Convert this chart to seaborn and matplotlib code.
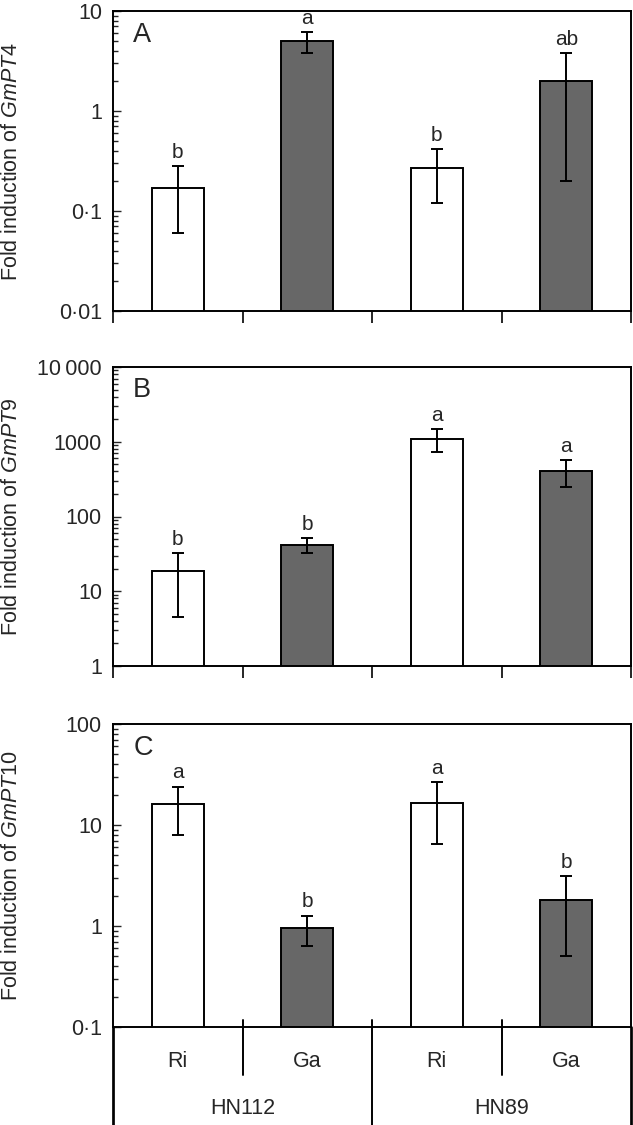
import numpy as np
import pandas as pd
import seaborn as sns
import matplotlib.pyplot as plt
import matplotlib.transforms as mtransforms
from matplotlib.ticker import FixedLocator, LogLocator, NullFormatter

# data (fold induction, mean and error)
cultivars = ['HN112', 'HN112', 'HN89', 'HN89']
fungi = ['Ri', 'Ga', 'Ri', 'Ga']
bar_ids = ['HN112 Ri', 'HN112 Ga', 'HN89 Ri', 'HN89 Ga']

pt4_mean = [0.17, 5.0, 0.27, 2.0]
pt4_err = [0.11, 1.2, 0.15, 1.8]
pt4_letters = ['b', 'a', 'b', 'ab']

pt9_mean = [18.5, 42, 1100, 410]
pt9_err = [14, 10, 370, 160]
pt9_letters = ['b', 'b', 'a', 'a']

pt10_mean = [16, 0.95, 16.5, 1.8]
pt10_err = [8, 0.32, 10, 1.3]
pt10_letters = ['a', 'b', 'a', 'b']

pt4_ticks = [0.01, 0.1, 1, 10]
pt4_ticklabels = ['0\u00b701', '0\u00b71', '1', '10']
pt9_ticks = [1, 10, 100, 1000, 10000]
pt9_ticklabels = ['1', '10', '100', '1000', '10\u2009000']
pt10_ticks = [0.1, 1, 10, 100]
pt10_ticklabels = ['0\u00b71', '1', '10', '100']

sns.set_style('ticks')
plt.rcParams['font.family'] = ['Liberation Sans', 'DejaVu Sans']
plt.rcParams['mathtext.fontset'] = 'custom'
plt.rcParams['mathtext.rm'] = 'Liberation Sans'
plt.rcParams['mathtext.it'] = 'Liberation Sans:italic'

LW = 1.4
palette = {'Ri': 'white', 'Ga': '#676767'}

fig = plt.figure(figsize=(6.33, 11.25), dpi=100)
W, H = 633, 1125
# axes boxes in pixels: left, top, right, bottom
boxes = [(113, 11, 631, 311), (113, 367, 631, 666), (113, 724, 631, 1027)]

panels = [
    ('A', 'GmPT4', pt4_mean, pt4_err, pt4_letters, pt4_ticks, pt4_ticklabels),
    ('B', 'GmPT9', pt9_mean, pt9_err, pt9_letters, pt9_ticks, pt9_ticklabels),
    ('C', 'GmPT10', pt10_mean, pt10_err, pt10_letters, pt10_ticks, pt10_ticklabels),
]

for i, (tag, gene, mean, err, letters, ticks, ticklabels) in enumerate(panels):
    l, t, r, b = boxes[i]
    ax = fig.add_axes([l / W, 1 - b / H, (r - l) / W, (b - t) / H])
    df = pd.DataFrame({'bar': bar_ids, 'fungus': fungi, 'value': mean})
    sns.barplot(data=df, x='bar', y='value', hue='fungus', palette=palette,
                dodge=False, legend=False, width=0.4, errorbar=None,
                edgecolor='black', linewidth=LW, ax=ax)
    ax.set_yscale('log')
    ax.errorbar(np.arange(4), mean, yerr=err, fmt='none', ecolor='black',
                elinewidth=LW, capsize=4.3, capthick=LW)
    for x, (m, e, s) in enumerate(zip(mean, err, letters)):
        ax.annotate(s, (x, m + e), xytext=(0, 3), textcoords='offset points',
                    ha='center', va='bottom', fontsize=15)

    ax.set_ylim(ticks[0], ticks[-1])
    ax.set_xlim(-0.5, 3.5)
    ax.yaxis.set_major_locator(FixedLocator(ticks))
    ax.set_yticklabels(ticklabels)
    ax.yaxis.set_minor_locator(LogLocator(base=10, subs=np.arange(2, 10)))
    ax.yaxis.set_minor_formatter(NullFormatter())
    ax.tick_params(axis='y', which='major', direction='in', length=6, width=1.0,
                   labelsize=15.5, pad=8)
    ax.tick_params(axis='y', which='minor', direction='in', length=3.5, width=1.0)
    for sp in ax.spines.values():
        sp.set_linewidth(LW)
        sp.set_color('black')

    ax.set_ylabel('Fold induction of $\\mathit{' + gene + '}$', fontsize=15.5)
    ax.yaxis.set_label_coords(-0.176, 0.5)
    ax.set_xlabel('')
    ax.text(0.039, 0.965, tag, transform=ax.transAxes, ha='left', va='top',
            fontsize=19.5)

    if i < 2:
        ax.set_xticks([-0.5, 0.5, 1.5, 2.5, 3.5])
        ax.set_xticklabels([])
        ax.tick_params(axis='x', direction='out', length=8.5, width=LW)
    else:
        ax.set_xticks(range(4))
        ax.set_xticklabels(fungi)
        ax.tick_params(axis='x', length=0, labelsize=15.5, pad=17)
        hpx = b - t
        bottom_ext = -(H - b) / hpx
        ax.axvline(0.5, ymin=-48 / hpx, ymax=7 / hpx, color='black', lw=LW, clip_on=False)
        ax.axvline(2.5, ymin=-48 / hpx, ymax=7 / hpx, color='black', lw=LW, clip_on=False)
        ax.axvline(1.5, ymin=bottom_ext, ymax=7 / hpx, color='black', lw=LW, clip_on=False)
        ax.axvline(-0.5, ymin=bottom_ext, ymax=0, color='black', lw=LW * 1.4, clip_on=False)
        ax.axvline(3.5, ymin=bottom_ext, ymax=0, color='black', lw=LW * 1.4, clip_on=False)
        trans = mtransforms.blended_transform_factory(ax.transData, ax.transAxes)
        for x, name in zip([0.5, 2.5], [cultivars[0], cultivars[2]]):
            ax.text(x, -81 / hpx, name, transform=trans, ha='center', va='center',
                    fontsize=15.5)

fig.savefig('out.png', dpi=100)
